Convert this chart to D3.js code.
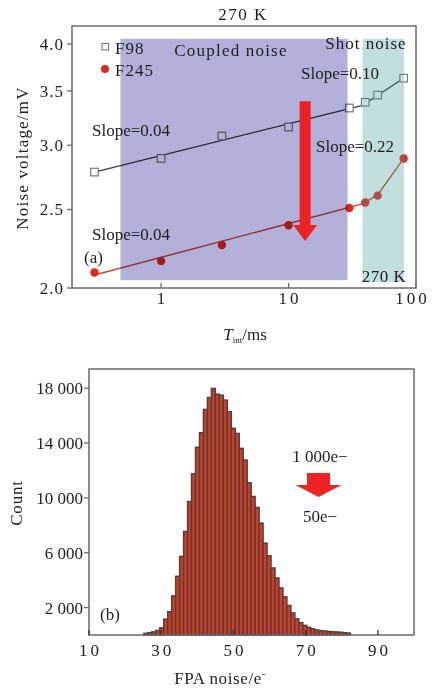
<!DOCTYPE html>
<html><head><meta charset="utf-8">
<script src="https://cdn.jsdelivr.net/npm/d3@7"></script>
<style>
html,body{margin:0;padding:0;background:#fff;}
svg{display:block;}
text{font-family:"Liberation Serif","Times New Roman",serif;fill:#1e1e1e;}
</style></head><body>
<svg id="fig" width="432" height="688"></svg>
<script>
// ---- (a) noise voltage versus integration time (log-log) ----
const tint = [0.3, 1, 3, 10, 30, 40, 50, 80];
const f98 = [2.78, 2.89, 3.08, 3.16, 3.335, 3.39, 3.46, 3.63];
const f245 = [2.09, 2.16, 2.26, 2.39, 2.51, 2.55, 2.60, 2.89];
const fitT98 = [0.3, 38, 80];
const fit98 = [2.78, 3.36, 3.63];
const fitT245 = [0.3, 38, 50, 80];
const fit245 = [2.075, 2.54, 2.605, 2.89];
const voltTicks = [2.0, 2.5, 3.0, 3.5, 4.0];
const timeTicks = [1, 10, 100];
const coupledSpan = [0.48, 29];
const shotSpan = [38, 80.5];
const bandVolt = [2.035, 4.06];
const arrowT = 13.5, arrowVolt = [3.40, 2.285];

// ---- (b) FPA noise histogram ----
const binStart = 25.2, binWidth = 1.1;
const counts = [120, 170, 230, 330, 520, 1150, 1700, 2850, 4280, 5730,
  7550, 9730, 11750, 13690, 14750, 16450, 17320, 17980, 17560, 17490,
  17130, 16280, 15070, 14700, 13610, 12760, 11100, 10100, 9300, 8160,
  6700, 5780, 4890, 4160, 3430, 2780, 2150, 1610, 1180, 900,
  700, 560, 450, 370, 320, 290, 260, 240, 220, 200, 170, 140];
const countTicks = [2000, 6000, 10000, 14000, 18000];
const noiseTicks = [10, 30, 50, 70, 90];

const svg = d3.select("#fig");
const axisCol = "#6a6a6a";
const fmtCount = v => d3.format(",")(v).replace(/,/g, " ");

// ================= panel (a) =================
const xA = d3.scaleLog().domain([0.2, 100]).range([72, 416]);
const yA = d3.scaleLog().domain([2, 4.21]).range([288, 26]);
const gA = svg.append("g");

// fitted trend lines
const lineA = d3.line().x(d => xA(d[0])).y(d => yA(d[1]));
gA.append("path").datum(d3.zip(fitT98, fit98)).attr("d", lineA)
  .attr("fill", "none").attr("stroke", "#3a3a3a").attr("stroke-width", 1.3);
gA.append("path").datum(d3.zip(fitT245, fit245)).attr("d", lineA)
  .attr("fill", "none").attr("stroke", "#d0452e").attr("stroke-width", 1.4);

// measured points
gA.selectAll("rect.f98").data(d3.zip(tint, f98)).join("rect")
  .attr("x", d => xA(d[0]) - 3.8).attr("y", d => yA(d[1]) - 3.8)
  .attr("width", 7.6).attr("height", 7.6)
  .attr("fill", "#fff").attr("stroke", "#777").attr("stroke-width", 1.2);
gA.selectAll("circle.f245").data(d3.zip(tint, f245)).join("circle")
  .attr("cx", d => xA(d[0])).attr("cy", d => yA(d[1])).attr("r", 4.2)
  .attr("fill", "#e5281e");

// noise-regime bands laid over the data
gA.append("rect")
  .attr("x", xA(coupledSpan[0])).attr("y", yA(bandVolt[1]))
  .attr("width", xA(coupledSpan[1]) - xA(coupledSpan[0]))
  .attr("height", yA(2.045) - yA(bandVolt[1]))
  .attr("fill", "#b3b0d9").style("mix-blend-mode", "multiply");
gA.append("rect")
  .attr("x", xA(shotSpan[0])).attr("y", yA(bandVolt[1]))
  .attr("width", xA(shotSpan[1]) - xA(shotSpan[0]))
  .attr("height", yA(bandVolt[0]) - yA(bandVolt[1]))
  .attr("fill", "#3a9d94").attr("opacity", 0.32);

// downward arrow
{
  const cx = xA(arrowT), y0 = yA(arrowVolt[0]), y1 = yA(arrowVolt[1]);
  const hw = 5.5, headW = 12, headL = 16;
  gA.append("path")
    .attr("d", `M${cx - hw},${y0} L${cx + hw},${y0} L${cx + hw},${y1 - headL} L${cx + headW},${y1 - headL} L${cx},${y1} L${cx - headW},${y1 - headL} L${cx - hw},${y1 - headL} Z`)
    .attr("fill", "#ec2222");
}

// frame and axes
gA.append("rect").attr("x", 72).attr("y", 26).attr("width", 344).attr("height", 262)
  .attr("fill", "none").attr("stroke", axisCol).attr("stroke-width", 1.5);
gA.selectAll("line.yt").data(voltTicks).join("line")
  .attr("x1", 67).attr("x2", 72).attr("y1", d => yA(d)).attr("y2", d => yA(d))
  .attr("stroke", axisCol).attr("stroke-width", 1.3);
gA.selectAll("text.yt").data(voltTicks).join("text")
  .attr("x", 64).attr("y", d => yA(d) + 6).attr("text-anchor", "end")
  .attr("font-size", 17).attr("letter-spacing", 1)
  .text(d => d3.format(".1f")(d));
gA.selectAll("line.xt").data(timeTicks).join("line")
  .attr("x1", d => xA(d)).attr("x2", d => xA(d)).attr("y1", 288).attr("y2", 283)
  .attr("stroke", axisCol).attr("stroke-width", 1.3);
gA.selectAll("text.xt").data(timeTicks).join("text")
  .attr("x", d => Math.min(xA(d), 411) + 1.5).attr("y", 304).attr("text-anchor", "middle")
  .attr("font-size", 17).attr("letter-spacing", 3)
  .text(d => d);

// titles and annotations
const addText = (g, x, y, s, opt = {}) => g.append("text").attr("x", x).attr("y", y)
  .attr("font-size", opt.size || 17).attr("text-anchor", opt.anchor || "start")
  .attr("letter-spacing", opt.ls || 0).text(s);

addText(gA, 243, 20, "270 K", {anchor: "middle", ls: 1.5});
addText(gA, 231, 56, "Coupled noise", {anchor: "middle", ls: 1.2});
addText(gA, 366, 49, "Shot noise", {anchor: "middle", ls: 1});
addText(gA, 301, 79, "Slope=0.10");
addText(gA, 92, 136, "Slope=0.04");
addText(gA, 316, 152, "Slope=0.22");
addText(gA, 92, 240, "Slope=0.04");
addText(gA, 84, 263, "(a)");
addText(gA, 384, 282, "270 K", {anchor: "middle", ls: 0.5});

// legend
gA.append("rect").attr("x", 102).attr("y", 43.5).attr("width", 6.5).attr("height", 6.5)
  .attr("fill", "#fff").attr("stroke", "#777").attr("stroke-width", 1.1);
addText(gA, 115, 54, "F98", {ls: 1});
gA.append("circle").attr("cx", 105).attr("cy", 69).attr("r", 4).attr("fill", "#e5281e");
addText(gA, 115, 76, "F245", {ls: 1});

gA.append("text").attr("transform", "translate(28,158) rotate(-90)")
  .attr("text-anchor", "middle").attr("font-size", 17).attr("letter-spacing", 1.2)
  .text("Noise voltage/mV");
{
  const t = gA.append("text").attr("x", 245).attr("y", 340).attr("text-anchor", "middle")
    .attr("font-size", 17);
  t.append("tspan").attr("font-style", "italic").text("T");
  t.append("tspan").attr("font-size", 9).attr("dy", 3).text("int");
  t.append("tspan").attr("dy", -3).text("/ms");
}

// ================= panel (b) =================
const xB = d3.scaleLinear().domain([10, 100]).range([89, 414]);
const yB = d3.scaleLinear().domain([0, 19400]).range([635, 369]);
const gB = svg.append("g");

const bins = counts.map((c, i) => ({x0: binStart + i * binWidth, c}));
gB.selectAll("rect.bar").data(bins).join("rect")
  .attr("x", d => xB(d.x0)).attr("width", d => xB(d.x0 + binWidth) - xB(d.x0))
  .attr("y", d => yB(d.c)).attr("height", d => yB(0) - yB(d.c))
  .attr("fill", "#dc3a1e").attr("stroke", "#4b4242").attr("stroke-width", 1.5);

gB.append("rect").attr("x", 89).attr("y", 369).attr("width", 325).attr("height", 266)
  .attr("fill", "none").attr("stroke", axisCol).attr("stroke-width", 1.5);
gB.selectAll("line.yt").data(countTicks).join("line")
  .attr("x1", 84).attr("x2", 89).attr("y1", d => yB(d)).attr("y2", d => yB(d))
  .attr("stroke", axisCol).attr("stroke-width", 1.3);
gB.selectAll("text.yt").data(countTicks).join("text")
  .attr("x", 83).attr("y", d => yB(d) + 6).attr("text-anchor", "end")
  .attr("font-size", 17).text(fmtCount);
gB.selectAll("line.xt").data(noiseTicks).join("line")
  .attr("x1", d => xB(d)).attr("x2", d => xB(d)).attr("y1", 635).attr("y2", 630)
  .attr("stroke", "#333").attr("stroke-width", 1.3);
gB.selectAll("text.xt").data(noiseTicks).join("text")
  .attr("x", d => xB(d) + 1.5).attr("y", 656).attr("text-anchor", "middle")
  .attr("font-size", 17).attr("letter-spacing", 3).text(d => d);

gB.append("text").attr("transform", "translate(22,503) rotate(-90)")
  .attr("text-anchor", "middle").attr("font-size", 17).attr("letter-spacing", 0.8)
  .text("Count");
{
  const t = gB.append("text").attr("x", 220).attr("y", 684).attr("text-anchor", "middle")
    .attr("font-size", 17).attr("letter-spacing", 0.6);
  t.append("tspan").text("FPA noise/e");
  t.append("tspan").attr("font-size", 10).attr("dy", -7).text("-");
}
addText(gB, 100, 620, "(b)");
addText(gB, 320, 462, "1 000e\u2212", {anchor: "middle"});
addText(gB, 320, 522, "50e\u2212", {anchor: "middle"});
{
  const cx = 318.5, top = 473, mid = 485, tip = 497;
  gB.append("path")
    .attr("d", `M${cx - 11.5},${top} L${cx + 11.5},${top} L${cx + 11.5},${mid} L${cx + 23},${mid} L${cx},${tip} L${cx - 23},${mid} L${cx - 11.5},${mid} Z`)
    .attr("fill", "#ee2424");
}
</script>
</body></html>
